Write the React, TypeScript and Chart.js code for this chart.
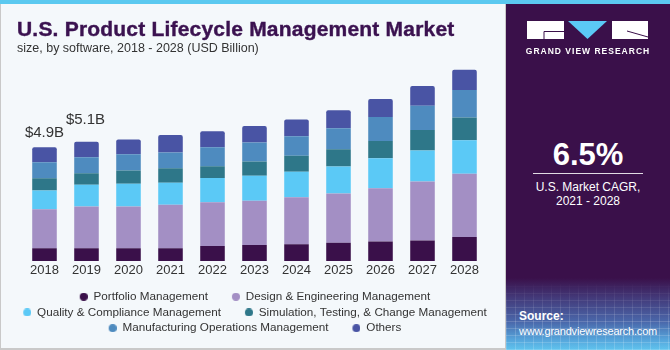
import React, { useEffect, useRef } from "react";
import { Chart, registerables } from "chart.js";

Chart.register(...registerables);

// ---------- data (USD Billion) ----------
const years = ["2018", "2019", "2020", "2021", "2022", "2023", "2024", "2025", "2026", "2027", "2028"];
const portfolio = [0.55, 0.55, 0.55, 0.55, 0.64, 0.69, 0.72, 0.78, 0.84, 0.88, 1.03];
const design = [1.67, 1.79, 1.79, 1.87, 1.89, 1.9, 2.02, 2.12, 2.29, 2.54, 2.73];
const quality = [0.81, 0.94, 0.98, 0.95, 1.04, 1.08, 1.1, 1.17, 1.29, 1.34, 1.44];
const simulation = [0.53, 0.5, 0.58, 0.62, 0.51, 0.61, 0.69, 0.74, 0.75, 0.88, 0.98];
const manufacturing = [0.69, 0.69, 0.69, 0.68, 0.82, 0.82, 0.84, 0.9, 1.03, 1.04, 1.18];
const others = [0.65, 0.66, 0.64, 0.75, 0.69, 0.71, 0.72, 0.78, 0.77, 0.85, 0.87];
const totalLabels = ["$4.9B", "$5.1B"];

const seriesNames = [
  "Portfolio Management",
  "Design & Engineering Management",
  "Quality & Compliance Management",
  "Simulation, Testing, & Change Management",
  "Manufacturing Operations Management",
  "Others",
];
const seriesColors = ["#3a104a", "#a38fc4", "#5bc9f6", "#2e7789", "#4e8bbf", "#4954a4"];
const seriesValues = [portfolio, design, quality, simulation, manufacturing, others];

const FONT = "'Liberation Sans', Arial, sans-serif";

function dotImage(color: string) {
  const c = document.createElement("canvas");
  c.width = 28;
  c.height = 8;
  const ctx = c.getContext("2d")!;
  ctx.fillStyle = color;
  ctx.beginPath();
  ctx.arc(24, 4, 4, 0, Math.PI * 2);
  ctx.fill();
  return c;
}

const totalLabelPlugin = {
  id: "totalLabels",
  afterDatasetsDraw(chart: any) {
    const ctx = chart.ctx;
    const meta = chart.getDatasetMeta(chart.data.datasets.length - 1);
    const offsets = [10, 18];
    const shifts = [0, -1];
    ctx.save();
    ctx.font = `15px ${FONT}`;
    ctx.fillStyle = "#333333";
    ctx.textAlign = "center";
    ctx.textBaseline = "alphabetic";
    totalLabels.forEach((t, i) => {
      const el = meta.data[i];
      if (el) ctx.fillText(t, el.x + shifts[i], el.y - offsets[i]);
    });
    ctx.restore();
  },
};

function ChartCanvas() {
  const ref = useRef<HTMLCanvasElement | null>(null);
  useEffect(() => {
    if (!ref.current) return;
    const images = seriesColors.map(dotImage);
    const chart = new Chart(ref.current, {
      type: "bar",
      data: {
        labels: years,
        datasets: seriesNames.map((name, i) => ({
          label: name,
          data: seriesValues[i],
          backgroundColor: seriesColors[i],
          borderWidth: 0,
          borderRadius: i === seriesNames.length - 1 ? { topLeft: 2, topRight: 2, bottomLeft: 0, bottomRight: 0 } : 0,
          borderSkipped: false,
          categoryPercentage: 1,
          barPercentage: 0.585,
        })),
      },
      options: {
        animation: false,
        responsive: false,
        events: [],
        layout: { padding: { top: 12, left: 0, right: 0, bottom: 0 } },
        scales: {
          x: {
            stacked: true,
            grid: { display: false, drawTicks: false },
            border: { display: false },
            ticks: { color: "#333333", font: { family: FONT, size: 13 }, padding: 2, maxRotation: 0 },
            afterFit: (s: any) => {
              s.height = 26;
            },
          },
          y: {
            stacked: true,
            min: 0,
            max: 9,
            position: "left",
            grid: { display: false, drawTicks: false },
            border: { display: false },
            ticks: { display: false },
            afterFit: (s: any) => {
              s.width = 48.5;
            },
          },
          yPad: {
            type: "linear",
            position: "right",
            grid: { display: false, drawTicks: false },
            border: { display: false },
            ticks: { display: false },
            afterFit: (s: any) => {
              s.width = 29.5;
            },
          },
        },
        plugins: {
          tooltip: { enabled: false },
          title: { display: false },
          legend: {
            display: true,
            position: "bottom",
            labels: {
              usePointStyle: true,
              pointStyleWidth: 28,
              padding: 4,
              color: "#333333",
              font: { family: FONT, size: 11.7 },
              generateLabels: (c: any) => {
                const base = Chart.defaults.plugins.legend.labels.generateLabels(c);
                return base.map((item: any, i: number) => ({ ...item, pointStyle: images[i], lineWidth: 0 }));
              },
            },
          },
        },
      } as any,
      plugins: [totalLabelPlugin],
    });
    return () => chart.destroy();
  }, []);
  return (
    <canvas
      ref={ref}
      width={540}
      height={304}
      style={{ position: "absolute", left: -26, top: 40, width: 540, height: 304 }}
    />
  );
}

function Logo() {
  return (
    <svg width={122} height={19} viewBox="0 0 122 19" style={{ position: "absolute", left: 21, top: 21 }}>
      <rect x={0} y={0} width={37} height={18} fill="#ffffff" />
      <path d="M17 10.5 H37 M17 10.5 V18" stroke="#3a104a" strokeWidth={1} fill="none" />
      <polygon points="41,0 80,0 60.5,18" fill="#5bc9f6" />
      <rect x={85} y={0} width={36} height={18} fill="#ffffff" />
      <path d="M100 10 L121 16" stroke="#3a104a" strokeWidth={1} fill="none" />
    </svg>
  );
}

export default function App() {
  return (
    <div
      style={{
        position: "absolute",
        left: 0,
        top: 0,
        width: 670,
        height: 350,
        overflow: "hidden",
        background: "#f4f8fb",
        fontFamily: FONT,
      }}
    >
      {/* left panel */}
      <div
        style={{
          position: "absolute",
          left: 0,
          top: 0,
          width: 505,
          height: 350,
          overflow: "hidden",
          background: "#f4f8fb",
          boxSizing: "border-box",
          borderLeft: "1px solid #c9c9c9",
          borderBottom: "2px solid #c9c9c9",
        }}
      >
        <ChartCanvas />
        <div
          style={{
            position: "absolute",
            left: 16,
            top: 18.2,
            fontSize: 21,
            lineHeight: "21px",
            fontWeight: 900,
            letterSpacing: 0.2,
            color: "#3b1250",
            whiteSpace: "nowrap",
            WebkitTextStroke: "0.4px #3b1250",
          }}
        >
          U.S. Product Lifecycle Management Market
        </div>
        <div
          style={{
            position: "absolute",
            left: 16,
            top: 41.8,
            fontSize: 12.5,
            lineHeight: "12.5px",
            color: "#333333",
            whiteSpace: "nowrap",
          }}
        >
          size, by software, 2018 - 2028 (USD Billion)
        </div>
      </div>
      {/* right panel */}
      <div
        style={{
          position: "absolute",
          left: 505,
          top: 0,
          width: 165,
          height: 350,
          overflow: "hidden",
          boxSizing: "border-box",
          borderLeft: "1px solid #c9c9c9",
          background:
            "linear-gradient(to bottom, #3a104a 0px, #3a104a 278px, #433a7a 298px, #4a68ab 322px, #56a6dc 340px, #60c4ee 350px)",
        }}
      >
        <div
          style={{
            position: "absolute",
            left: 0,
            top: 282,
            width: 165,
            height: 68,
            backgroundImage:
              "repeating-linear-gradient(90deg, rgba(255,255,255,0.16) 0px, rgba(255,255,255,0.16) 1px, transparent 1px, transparent 9px), repeating-linear-gradient(0deg, rgba(255,255,255,0.16) 0px, rgba(255,255,255,0.16) 1px, transparent 1px, transparent 7px)",
            WebkitMaskImage: "linear-gradient(to bottom, transparent, black 60%)",
            maskImage: "linear-gradient(to bottom, transparent, black 60%)",
          }}
        />
        <Logo />
        <div
          style={{
            position: "absolute",
            left: 0,
            top: 47,
            width: 164,
            textAlign: "center",
            fontSize: 8.5,
            lineHeight: "8.5px",
            fontWeight: 700,
            letterSpacing: 1,
            color: "#ffffff",
            whiteSpace: "nowrap",
          }}
        >
          GRAND VIEW RESEARCH
        </div>
        <div
          style={{
            position: "absolute",
            left: 0,
            top: 139,
            width: 164,
            textAlign: "center",
            fontSize: 31,
            lineHeight: "31px",
            fontWeight: 700,
            color: "#ffffff",
          }}
        >
          6.5%
        </div>
        <div style={{ position: "absolute", left: 27, top: 173, width: 110, height: 1, background: "rgba(255,255,255,0.85)" }} />
        <div
          style={{
            position: "absolute",
            left: 0,
            top: 179.5,
            width: 164,
            textAlign: "center",
            fontSize: 12,
            lineHeight: "14px",
            color: "#ffffff",
          }}
        >
          U.S. Market CAGR,
          <br />
          2021 - 2028
        </div>
        <div
          style={{
            position: "absolute",
            left: 13,
            top: 309,
            fontSize: 12,
            lineHeight: "14px",
            fontWeight: 700,
            color: "#ffffff",
          }}
        >
          Source:
        </div>
        <div
          style={{
            position: "absolute",
            left: 13,
            top: 324,
            fontSize: 11,
            lineHeight: "14px",
            letterSpacing: -0.2,
            color: "#ffffff",
            whiteSpace: "nowrap",
          }}
        >
          www.grandviewresearch.com
        </div>
      </div>
      {/* top cyan bar */}
      <div style={{ position: "absolute", left: 0, top: 0, width: 670, height: 4, background: "#5bc9f0" }} />
    </div>
  );
}
